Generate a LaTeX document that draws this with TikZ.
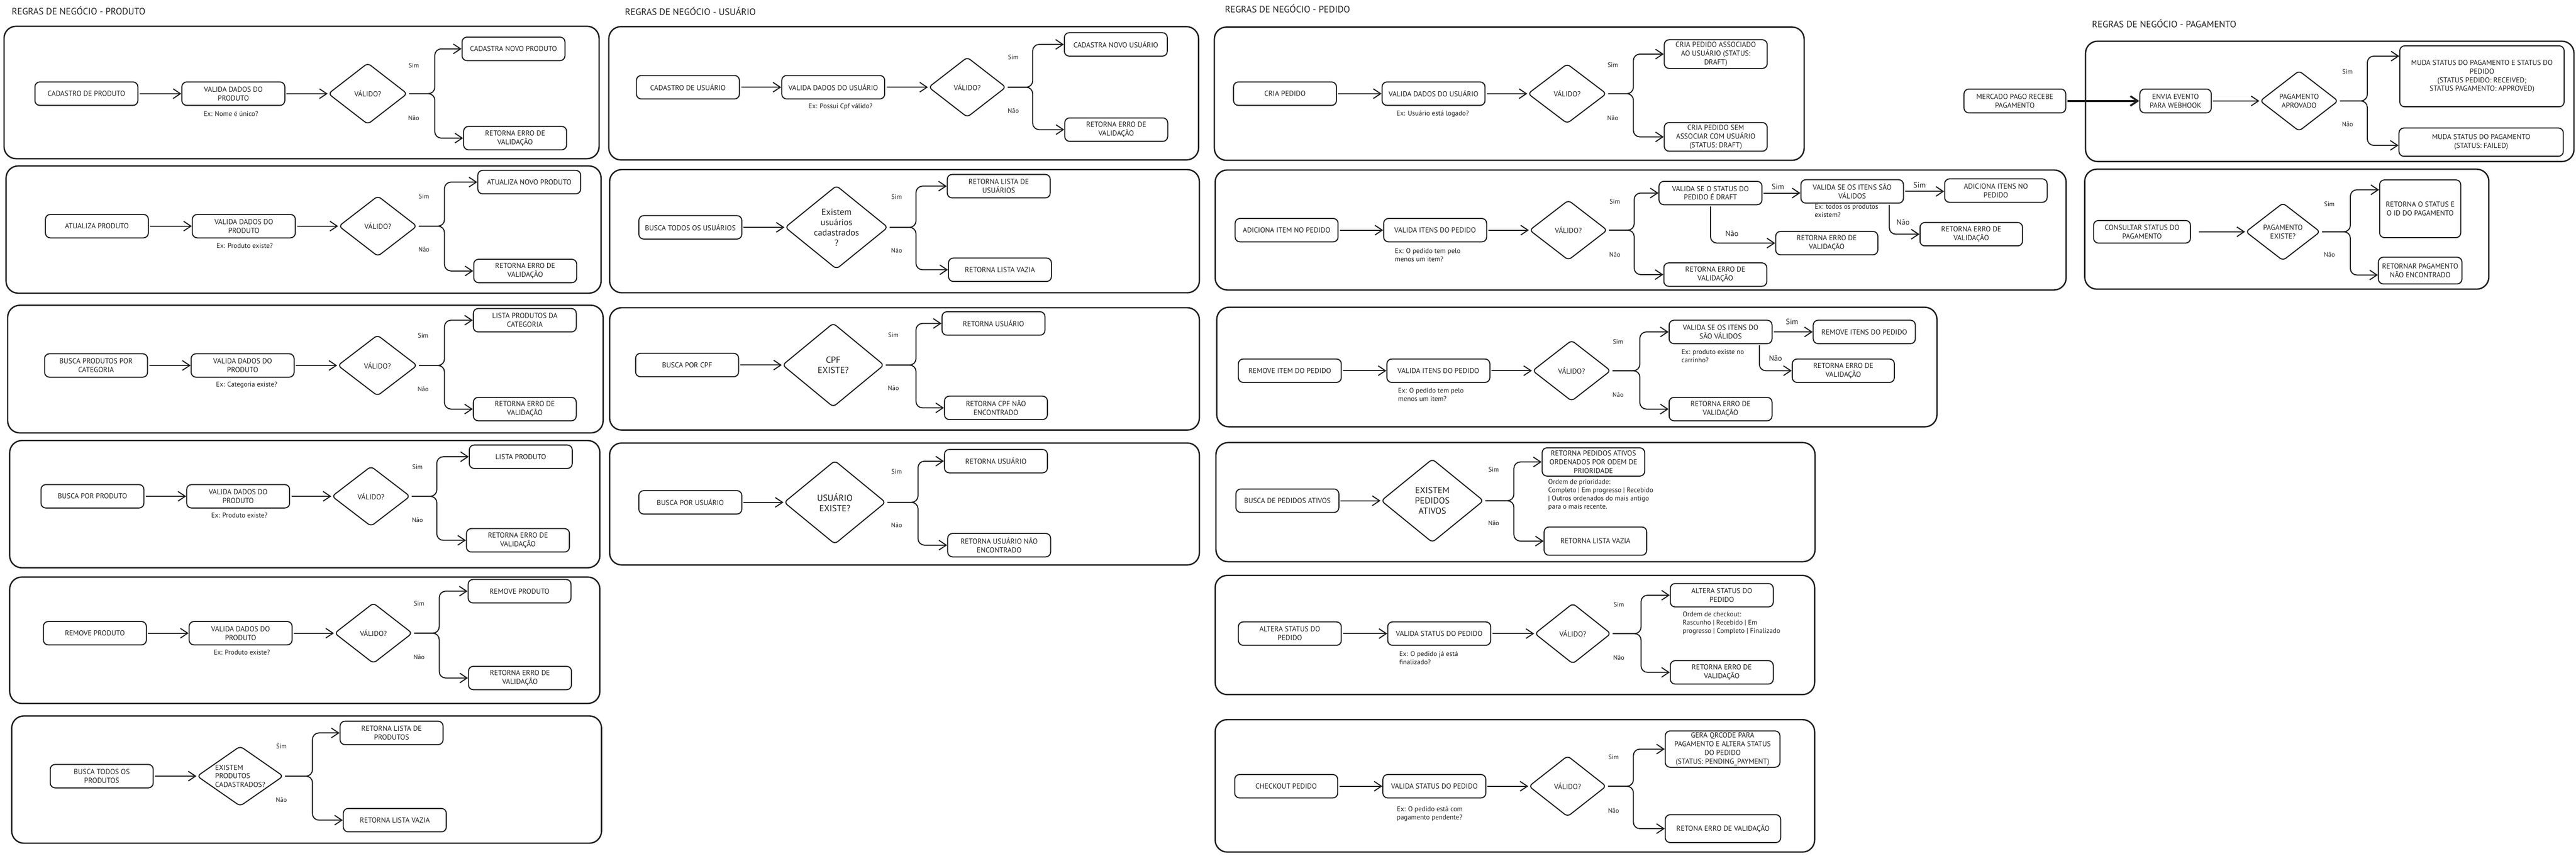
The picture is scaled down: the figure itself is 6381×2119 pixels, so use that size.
\documentclass[tikz,border=0pt]{standalone}
\usepackage{fontspec}
\setmainfont{PT Sans}
\usetikzlibrary{arrows.meta,shapes.geometric}
\definecolor{ink}{HTML}{1E1E1E}
\newcommand\myBoxFont{\fontsize{18}{21.6}\selectfont}
\newcommand\myBigFont{\fontsize{22}{25.5}\selectfont}
\newcommand\myNoteFont{\fontsize{17}{20.4}\selectfont}
\newcommand\myLblFont{\fontsize{16}{19}\selectfont}
\newcommand\myLblBFont{\fontsize{19}{22}\selectfont}
\newcommand\myTitleFont{\fontsize{23}{27}\selectfont}
\begin{document}
\begin{tikzpicture}[x=1pt,y=-1pt,
  frame/.style={draw=ink,line width=3.4pt,rounded corners=30pt},
  box/.style={draw=ink,line width=2.6pt,rounded corners=12pt,minimum width=255pt,minimum height=58pt,align=center,inner sep=4pt,font=\myBoxFont,text=ink},
  dia/.style={diamond,draw=ink,line width=2.6pt,rounded corners=9pt,inner sep=0pt},
  dtxt/.style={font=\myBoxFont,align=center,text=ink,inner sep=0pt},
  dtxtb/.style={font=\myBigFont,align=center,text=ink,inner sep=0pt},
  arr/.style={draw=ink,line width=2.6pt,-{Straight Barb[length=18pt,width=24pt]},shorten <=3pt},
  br/.style={arr,rounded corners=16pt},
  lbl/.style={font=\myLblFont,text=ink},
  lblb/.style={font=\myLblBFont,text=ink},
  ex/.style={font=\myNoteFont,text=ink},
  note/.style={font=\myNoteFont,align=left,text=ink,anchor=west,inner sep=0pt},
  ttl/.style={font=\myTitleFont,text=ink,anchor=west,inner sep=0pt}
]
\useasboundingbox (0,0) rectangle (6381,2119);
\fill[white] (0,0) rectangle (6381,2119);

%================ PRODUTO =================
\node[ttl] (tp) at (29,26) {REGRAS DE NEGÓCIO - PRODUTO};

% P1
\draw[frame] (10,65) rectangle (1484,393);
\node[box] (p1a) at (214,232) {CADASTRO DE PRODUTO};
\node[box] (p1b) at (578,232) {VALIDA DADOS DO\\PRODUTO};
\node[ex] (p1x) at (572,282) {Ex: Nome é único?};
\node[dia,minimum width=196pt,minimum height=152pt] (p1d) at (911,232) {};
\node[dtxt] (p1dt) at (p1d) {VÁLIDO?};
\node[box] (p1c) at (1272,121) {CADASTRA NOVO PRODUTO};
\node[box] (p1e) at (1276,342) {RETORNA ERRO DE\\VALIDAÇÃO};
\coordinate (p1j) at (1077,232);
\node[lbl] (p1s) at (1025,162) {Sim};
\node[lbl] (p1n) at (1025,292) {Não};
\draw[arr] (p1a) -- (p1b);
\draw[arr] (p1b) -- (p1d);
\draw[br] (p1d.east) -- (p1j) |- (p1c.west);
\draw[br] (p1d.east) -- (p1j) |- (p1e.west);

% P2
\draw[frame] (15,411) rectangle (1489,726);
\node[box] (p2a) at (240,560) {ATUALIZA PRODUTO};
\node[box] (p2b) at (604,560) {VALIDA DADOS DO\\PRODUTO};
\node[ex] (p2x) at (606,608) {Ex: Produto existe?};
\node[dia,minimum width=194pt,minimum height=150pt] (p2d) at (936,560) {};
\node[dtxt] (p2dt) at (p2d) {VÁLIDO?};
\node[box] (p2c) at (1311,451) {ATUALIZA NOVO PRODUTO};
\node[box] (p2e) at (1301,671) {RETORNA ERRO DE\\VALIDAÇÃO};
\coordinate (p2j) at (1101,560);
\node[lbl] (p2s) at (1050,487) {Sim};
\node[lbl] (p2n) at (1050,618) {Não};
\draw[arr] (p2a) -- (p2b);
\draw[arr] (p2b) -- (p2d);
\draw[br] (p2d.east) -- (p2j) |- (p2c.west);
\draw[br] (p2d.east) -- (p2j) |- (p2e.west);

% P3
\draw[frame] (19,756) rectangle (1494,1072);
\node[box] (p3a) at (238,905) {BUSCA PRODUTOS POR\\CATEGORIA};
\node[box] (p3b) at (601,905) {VALIDA DADOS DO\\PRODUTO};
\node[ex] (p3x) at (611,953) {Ex: Categoria existe?};
\node[dia,minimum width=197pt,minimum height=151pt] (p3d) at (935,905) {};
\node[dtxt] (p3dt) at (p3d) {VÁLIDO?};
\node[box] (p3c) at (1300,793) {LISTA PRODUTOS DA\\CATEGORIA};
\node[box] (p3e) at (1300,1013) {RETORNA ERRO DE\\VALIDAÇÃO};
\coordinate (p3j) at (1101,905);
\node[lbl] (p3s) at (1048,831) {Sim};
\node[lbl] (p3n) at (1048,964) {Não};
\draw[arr] (p3a) -- (p3b);
\draw[arr] (p3b) -- (p3d);
\draw[br] (p3d.east) -- (p3j) |- (p3c.west);
\draw[br] (p3d.east) -- (p3j) |- (p3e.west);

% P4
\draw[frame] (24,1091) rectangle (1486,1406);
\node[box] (p4a) at (229,1229) {BUSCA POR PRODUTO};
\node[box] (p4b) at (590,1229) {VALIDA DADOS DO\\PRODUTO};
\node[ex] (p4x) at (593,1276) {Ex: Produto existe?};
\node[dia,minimum width=194pt,minimum height=149pt] (p4d) at (919,1229) {};
\node[dtxt] (p4dt) at (p4d) {VÁLIDO?};
\node[box] (p4c) at (1290,1131) {LISTA PRODUTO};
\node[box] (p4e) at (1283,1338) {RETORNA ERRO DE\\VALIDAÇÃO};
\coordinate (p4j) at (1082,1229);
\node[lbl] (p4s) at (1034,1156) {Sim};
\node[lbl] (p4n) at (1034,1288) {Não};
\draw[arr] (p4a) -- (p4b);
\draw[arr] (p4b) -- (p4d);
\draw[br] (p4d.east) -- (p4j) |- (p4c.west);
\draw[br] (p4d.east) -- (p4j) |- (p4e.west);

% P5
\draw[frame] (24,1429) rectangle (1486,1742);
\node[box] (p5a) at (235,1568) {REMOVE PRODUTO};
\node[box] (p5b) at (596,1568) {VALIDA DADOS DO\\PRODUTO};
\node[ex] (p5x) at (599,1616) {Ex: Produto existe?};
\node[dia,minimum width=193pt,minimum height=150pt] (p5d) at (925,1568) {};
\node[dtxt] (p5dt) at (p5d) {VÁLIDO?};
\node[box] (p5c) at (1287,1464) {REMOVE PRODUTO};
\node[box] (p5e) at (1288,1679) {RETORNA ERRO DE\\VALIDAÇÃO};
\coordinate (p5j) at (1088,1568);
\node[lbl] (p5s) at (1038,1495) {Sim};
\node[lbl] (p5n) at (1038,1627) {Não};
\draw[arr] (p5a) -- (p5b);
\draw[arr] (p5b) -- (p5d);
\draw[br] (p5d.east) -- (p5j) |- (p5c.west);
\draw[br] (p5d.east) -- (p5j) |- (p5e.west);

% P6
\draw[frame] (29,1773) rectangle (1490,2088);
\node[box] (p6a) at (252,1922) {BUSCA TODOS OS\\PRODUTOS};
\node[dia,minimum width=214pt,minimum height=149pt] (p6d) at (595,1922) {};
\node[dtxt,align=left] (p6dt) at (p6d) {EXISTEM\\PRODUTOS\\CADASTRADOS?};
\node[box] (p6c) at (970,1815) {RETORNA LISTA DE\\PRODUTOS};
\node[box] (p6e) at (978,2031) {RETORNA LISTA VAZIA};
\coordinate (p6j) at (774,1922);
\node[lbl] (p6s) at (697,1848) {Sim};
\node[lbl] (p6n) at (697,1981) {Não};
\draw[arr] (p6a) -- (p6d);
\draw[br] (p6d.east) -- (p6j) |- (p6c.west);
\draw[br] (p6d.east) -- (p6j) |- (p6e.west);

%================ USUARIO =================
\node[ttl] (tu) at (1548,28) {REGRAS DE NEGÓCIO - USUÁRIO};

% U1
\draw[frame] (1508,66) rectangle (2969,396);
\node[box] (u1a) at (1704,216) {CADASTRO DE USUÁRIO};
\node[box] (u1b) at (2064,216) {VALIDA DADOS DO USUÁRIO};
\node[ex] (u1x) at (2082,264) {Ex: Possui Cpf válido?};
\node[dia,minimum width=192pt,minimum height=149pt] (u1d) at (2396,216) {};
\node[dtxt] (u1dt) at (u1d) {VÁLIDO?};
\node[box] (u1c) at (2764,110) {CADASTRA NOVO USUÁRIO};
\node[box] (u1e) at (2765,321) {RETORNA ERRO DE\\VALIDAÇÃO};
\coordinate (u1j) at (2558,216);
\node[lbl] (u1s) at (2510,142) {Sim};
\node[lbl] (u1n) at (2510,275) {Não};
\draw[arr] (u1a) -- (u1b);
\draw[arr] (u1b) -- (u1d);
\draw[br] (u1d.east) -- (u1j) |- (u1c.west);
\draw[br] (u1d.east) -- (u1j) |- (u1e.west);

% U2
\draw[frame] (1510,420) rectangle (2971,725);
\node[box] (u2a) at (1710,563) {BUSCA TODOS OS USUÁRIOS};
\node[dia,minimum width=255pt,minimum height=207pt] (u2d) at (2072,563) {};
\node[dtxtb] (u2dt) at (u2d) {Existem\\usuários\\cadastrados\\?};
\node[box] (u2c) at (2474,461) {RETORNA LISTA DE\\USUÁRIOS};
\node[box] (u2e) at (2477,668) {RETORNA LISTA VAZIA};
\coordinate (u2j) at (2269,563);
\node[lbl] (u2s) at (2221,488) {Sim};
\node[lbl] (u2n) at (2221,620) {Não};
\draw[arr] (u2a) -- (u2d);
\draw[br] (u2d.east) -- (u2j) |- (u2c.west);
\draw[br] (u2d.east) -- (u2j) |- (u2e.west);

% U3
\draw[frame] (1510,762) rectangle (2971,1065);
\node[box] (u3a) at (1702,904) {BUSCA POR CPF};
\node[dia,minimum width=252pt,minimum height=208pt] (u3d) at (2064,904) {};
\node[dtxtb] (u3dt) at (u3d) {CPF\\EXISTE?};
\node[box] (u3c) at (2461,801) {RETORNA USUÁRIO};
\node[box] (u3e) at (2467,1010) {RETORNA CPF NÃO\\ENCONTRADO};
\coordinate (u3j) at (2269,904);
\node[lbl] (u3s) at (2213,830) {Sim};
\node[lbl] (u3n) at (2213,961) {Não};
\draw[arr] (u3a) -- (u3d);
\draw[br] (u3d.east) -- (u3j) |- (u3c.west);
\draw[br] (u3d.east) -- (u3j) |- (u3e.west);

% U4
\draw[frame] (1510,1097) rectangle (2971,1399);
\node[box] (u4a) at (1710,1244) {BUSCA POR USUÁRIO};
\node[dia,minimum width=252pt,minimum height=207pt] (u4d) at (2068,1244) {};
\node[dtxtb] (u4dt) at (u4d) {USUÁRIO\\EXISTE?};
\node[box] (u4c) at (2467,1142) {RETORNA USUÁRIO};
\node[box] (u4e) at (2475,1350) {RETORNA USUÁRIO NÃO\\ENCONTRADO};
\coordinate (u4j) at (2274,1244);
\node[lbl] (u4s) at (2221,1168) {Sim};
\node[lbl] (u4n) at (2221,1300) {Não};
\draw[arr] (u4a) -- (u4d);
\draw[br] (u4d.east) -- (u4j) |- (u4c.west);
\draw[br] (u4d.east) -- (u4j) |- (u4e.west);

%================ PEDIDO =================
\node[ttl] (te) at (3034,21) {REGRAS DE NEGÓCIO - PEDIDO};

% E1
\draw[frame] (3008,67) rectangle (4469,397);
\node[box] (e1a) at (3183,232) {CRIA PEDIDO};
\node[box] (e1b) at (3551,232) {VALIDA DADOS DO USUÁRIO};
\node[ex] (e1x) at (3549,282) {Ex: Usuário está logado?};
\node[dia,minimum width=195pt,minimum height=148pt] (e1d) at (3882,232) {};
\node[dtxt] (e1dt) at (e1d) {VÁLIDO?};
\node[box,minimum height=71pt] (e1c) at (4250,134) {CRIA PEDIDO ASSOCIADO\\AO USUÁRIO (STATUS:\\DRAFT)};
\node[box,minimum height=71pt] (e1e) at (4250,339) {CRIA PEDIDO SEM\\ASSOCIAR COM USUÁRIO\\(STATUS: DRAFT)};
\coordinate (e1j) at (4046,232);
\node[lbl] (e1s) at (3995,161) {Sim};
\node[lbl] (e1n) at (3995,293) {Não};
\draw[arr] (e1a) -- (e1b);
\draw[arr] (e1b) -- (e1d);
\draw[br] (e1d.east) -- (e1j) |- (e1c.west);
\draw[br] (e1d.east) -- (e1j) |- (e1e.west);

% E2
\draw[frame] (3010,421) rectangle (5118,718);
\node[box] (e2a) at (3187,570) {ADICIONA ITEM NO PEDIDO};
\node[box] (e2b) at (3555,570) {VALIDA ITENS DO PEDIDO};
\node[note] (e2x) at (3455,631) {Ex: O pedido tem pelo\\menos um item?};
\node[dia,minimum width=193pt,minimum height=149pt] (e2d) at (3885,570) {};
\node[dtxt] (e2dt) at (e2d) {VÁLIDO?};
\node[box] (e2c) at (4237,478) {VALIDA SE O STATUS DO\\PEDIDO É DRAFT};
\node[box] (e2e) at (4249,680) {RETORNA ERRO DE\\VALIDAÇÃO};
\coordinate (e2j) at (4048,570);
\node[lbl] (e2s) at (4000,499) {Sim};
\node[lbl] (e2n) at (4000,631) {Não};
\node[box,minimum width=254pt] (e2v) at (4588,474) {VALIDA SE OS ITENS SÃO\\VÁLIDOS};
\node[box,minimum width=254pt] (e2g) at (4944,472) {ADICIONA ITENS NO\\PEDIDO};
\node[box,minimum width=253pt] (e2f) at (4525,602) {RETORNA ERRO DE\\VALIDAÇÃO};
\node[box,minimum width=254pt] (e2h) at (4883,580) {RETORNA ERRO DE\\VALIDAÇÃO};
\node[note] (e2y) at (4495,522) {Ex: todos os produtos\\existem?};
\node[lblb] (e2s2) at (4404,462) {Sim};
\node[lblb] (e2s3) at (4755,458) {Sim};
\node[lblb] (e2n2) at (4290,579) {Não};
\node[lblb] (e2n3) at (4714,550) {Não};
\draw[arr] (e2a) -- (e2b);
\draw[arr] (e2b) -- (e2d);
\draw[br] (e2d.east) -- (e2j) |- (e2c.west);
\draw[br] (e2d.east) -- (e2j) |- (e2e.west);
\draw[arr] (e2c.east) -- (e2c.east -| e2v.west);
\draw[arr] (e2v.east) -- (e2v.east -| e2g.west);
\draw[br] (e2c.south) |- (e2f.west);
\draw[br] ([xshift=92pt]e2v.south) |- (e2h.west);

% E3
\draw[frame] (3014,761) rectangle (4798,1057);
\node[box] (e3a) at (3195,918) {REMOVE ITEM DO PEDIDO};
\node[box] (e3b) at (3563,918) {VALIDA ITENS DO PEDIDO};
\node[note] (e3x) at (3463,977) {Ex: O pedido tem pelo\\menos um item?};
\node[dia,minimum width=194pt,minimum height=151pt] (e3d) at (3893,918) {};
\node[dtxt] (e3dt) at (e3d) {VÁLIDO?};
\node[box] (e3c) at (4262,822) {VALIDA SE OS ITENS DO\\SÃO VÁLIDOS};
\node[box] (e3e) at (4262,1013) {RETORNA ERRO DE\\VALIDAÇÃO};
\coordinate (e3j) at (4062,918);
\node[lbl] (e3s) at (4008,846) {Sim};
\node[lbl] (e3n) at (4008,978) {Não};
\node[note] (e3y) at (4165,882) {Ex: produto existe no\\carrinho?};
\node[box,minimum width=253pt] (e3r) at (4618,822) {REMOVE ITENS DO PEDIDO};
\node[box,minimum width=253pt] (e3f) at (4566,918) {RETORNA ERRO DE\\VALIDAÇÃO};
\node[lblb] (e3s2) at (4439,797) {Sim};
\node[lblb] (e3n2) at (4398,887) {Não};
\draw[arr] (e3a) -- (e3b);
\draw[arr] (e3b) -- (e3d);
\draw[br] (e3d.east) -- (e3j) |- (e3c.west);
\draw[br] (e3d.east) -- (e3j) |- (e3e.west);
\draw[arr] (e3c.east) -- (e3c.east -| e3r.west);
\draw[br] ([xshift=96pt]e3c.south) |- (e3f.west);

% E4
\draw[frame] (3012,1096) rectangle (4496,1391);
\node[box] (e4a) at (3189,1240) {BUSCA DE PEDIDOS ATIVOS};
\node[dia,minimum width=254pt,minimum height=207pt] (e4d) at (3548,1240) {};
\node[dtxtb] (e4dt) at (e4d) {EXISTEM\\PEDIDOS\\ATIVOS};
\node[box,minimum width=254pt,minimum height=70pt] (e4c) at (3947,1144) {RETORNA PEDIDOS ATIVOS\\ORDENADOS POR ODEM DE\\PRIORIDADE};
\node[box,minimum width=254pt,minimum height=70pt] (e4e) at (3952,1340) {RETORNA LISTA VAZIA};
\node[note] (e4y) at (3835,1225) {Ordem de prioridade:\\Completo | Em progresso | Recebido\\| Outros ordenados do mais antigo\\para o mais recente.};
\coordinate (e4j) at (3750,1240);
\node[lbl] (e4s) at (3700,1163) {Sim};
\node[lbl] (e4n) at (3700,1295) {Não};
\draw[arr] (e4a) -- (e4d);
\draw[br] (e4d.east) -- (e4j) |- (e4c.west);
\draw[br] (e4d.east) -- (e4j) |- (e4e.west);

% E5
\draw[frame] (3010,1425) rectangle (4495,1720);
\node[box] (e5a) at (3195,1569) {ALTERA STATUS DO\\PEDIDO};
\node[box] (e5b) at (3565,1569) {VALIDA STATUS DO PEDIDO};
\node[note] (e5x) at (3466,1629) {Ex: O pedido já está\\finalizado?};
\node[dia,minimum width=189pt,minimum height=150pt] (e5d) at (3896,1569) {};
\node[dtxt] (e5dt) at (e5d) {VÁLIDO?};
\node[box] (e5c) at (4265,1474) {ALTERA STATUS DO\\PEDIDO};
\node[box] (e5e) at (4265,1665) {RETORNA ERRO DE\\VALIDAÇÃO};
\node[note] (e5y) at (4168,1543) {Ordem de checkout:\\Rascunho | Recebido | Em\\progresso | Completo | Finalizado};
\coordinate (e5j) at (4065,1569);
\node[lbl] (e5s) at (4010,1497) {Sim};
\node[lbl] (e5n) at (4010,1629) {Não};
\draw[arr] (e5a) -- (e5b);
\draw[arr] (e5b) -- (e5d);
\draw[br] (e5d.east) -- (e5j) |- (e5c.west);
\draw[br] (e5d.east) -- (e5j) |- (e5e.west);

% E6
\draw[frame] (3010,1782) rectangle (4495,2110);
\node[box] (e6a) at (3186,1947) {CHECKOUT PEDIDO};
\node[box] (e6b) at (3553,1947) {VALIDA STATUS DO PEDIDO};
\node[note] (e6x) at (3460,2015) {Ex: O pedido está com\\pagamento pendente?};
\node[dia,minimum width=192pt,minimum height=151pt] (e6d) at (3883,1947) {};
\node[dtxt] (e6dt) at (e6d) {VÁLIDO?};
\node[box,minimum width=284pt,minimum height=90pt] (e6c) at (4267,1855) {GERA QRCODE PARA\\PAGAMENTO E ALTERA STATUS\\DO PEDIDO\\(STATUS: PENDING\_PAYMENT)};
\node[box,minimum width=286pt,minimum height=69pt] (e6e) at (4268,2052) {RETONA ERRO DE VALIDAÇÃO};
\coordinate (e6j) at (4046,1947);
\node[lbl] (e6s) at (3997,1875) {Sim};
\node[lbl] (e6n) at (3997,2007) {Não};
\draw[arr] (e6a) -- (e6b);
\draw[arr] (e6b) -- (e6d);
\draw[br] (e6d.east) -- (e6j) |- (e6c.west);
\draw[br] (e6d.east) -- (e6j) |- (e6e.west);

%================ PAGAMENTO =================
\node[ttl] (tg) at (5182,58) {REGRAS DE NEGÓCIO - PAGAMENTO};

% G1
\draw[frame] (5166,102) rectangle (6376,400);
\node[box,minimum width=252pt,minimum height=59pt] (g1m) at (4991,250) {MERCADO PAGO RECEBE\\PAGAMENTO};
\node[box,minimum width=177pt,minimum height=59pt] (g1a) at (5389,250) {ENVIA EVENTO\\PARA WEBHOOK};
\node[dia,minimum width=194pt,minimum height=150pt] (g1d) at (5695,250) {};
\node[dtxt] (g1dt) at (g1d) {PAGAMENTO\\APROVADO};
\node[box,minimum width=407pt,minimum height=151pt] (g1c) at (6148,189) {MUDA STATUS DO PAGAMENTO E STATUS DO\\PEDIDO\\(STATUS PEDIDO: RECEIVED;\\STATUS PAGAMENTO: APPROVED)};
\node[box,minimum width=407pt,minimum height=70pt] (g1e) at (6146,352) {MUDA STATUS DO PAGAMENTO\\(STATUS: FAILED)};
\coordinate (g1j) at (5864,250);
\node[lbl] (g1s) at (5815,177) {Sim};
\node[lbl] (g1n) at (5815,308) {Não};
\draw[arr,line width=4.6pt] (g1m) -- (g1a);
\draw[arr] (g1a) -- (g1d);
\draw[br] (g1d.east) -- (g1j) |- ([yshift=50pt]g1c.west);
\draw[br] (g1d.east) -- (g1j) |- ([yshift=-8pt]g1e.west);

% G2
\draw[frame] (5164,419) rectangle (6165,716);
\node[box,minimum width=240pt,minimum height=56pt] (g2a) at (5306,574) {CONSULTAR STATUS DO\\PAGAMENTO};
\node[dia,minimum width=185pt,minimum height=143pt] (g2d) at (5655,574) {};
\node[dtxt] (g2dt) at (g2d) {PAGAMENTO\\EXISTE?};
\node[box,minimum width=201pt,minimum height=143pt] (g2c) at (5995,517) {RETORNA O STATUS E\\O ID DO PAGAMENTO};
\node[box,minimum width=207pt,minimum height=66pt] (g2e) at (5995,670) {RETORNAR PAGAMENTO\\NÃO ENCONTRADO};
\coordinate (g2j) at (5822,574);
\node[lbl] (g2s) at (5770,505) {Sim};
\node[lbl] (g2n) at (5770,631) {Não};
\draw[arr,shorten <=20pt] (g2a) -- (g2d);
\draw[br] (g2d.east) -- (g2j) |- ([yshift=47pt]g2c.west);
\draw[br] (g2d.east) -- (g2j) |- ([yshift=-11pt]g2e.west);

\end{tikzpicture}
\end{document}
